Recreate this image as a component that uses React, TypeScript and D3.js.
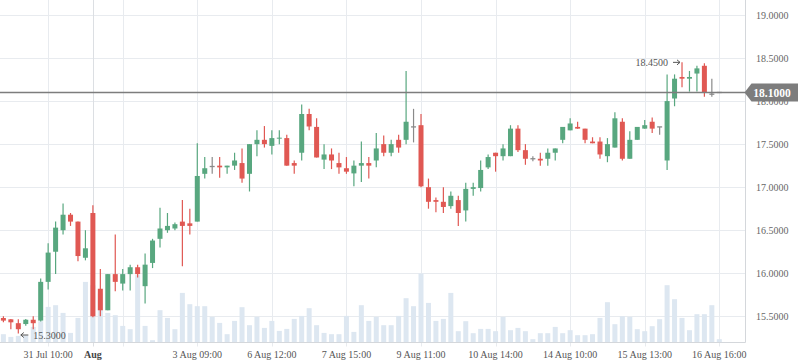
import React from "react";
import * as d3 from "d3";

const opens = [15.48,15.465,15.42,15.41,15.46,15.45,15.90,16.25,16.50,16.68,16.60,16.18,16.70,15.82,15.57,15.99,15.88,15.99,16.07,15.85,16.12,16.40,16.50,16.52,16.60,16.58,16.60,17.155,17.24,17.25,17.23,17.25,17.28,17.155,17.50,17.55,17.48,17.565,17.57,17.28,17.40,17.85,17.70,17.32,17.38,17.28,17.22,17.16,17.25,17.28,17.31,17.50,17.40,17.55,17.55,17.70,17.72,17.00,16.85,16.83,16.78,16.85,16.73,16.98,16.99,17.23,17.40,17.36,17.36,17.68,17.43,17.33,17.33,17.33,17.40,17.55,17.66,17.70,17.68,17.53,17.53,17.36,17.46,17.76,17.33,17.55,17.68,17.76,17.70,17.31,18.03,18.28,18.26,18.32,18.41,18.08,18.10];
const highs = [15.50,15.47,15.465,15.47,15.50,15.94,16.35,16.60,16.81,16.70,16.60,16.50,16.79,16.05,15.99,16.45,16.05,16.10,16.10,16.23,16.40,16.76,16.70,16.59,16.85,16.75,17.51,17.35,17.35,17.35,17.25,17.40,17.45,17.50,17.66,17.71,17.66,17.66,17.61,17.31,17.96,17.91,17.80,17.50,17.45,17.40,17.35,17.31,17.53,17.35,17.63,17.60,17.55,17.61,18.35,17.91,17.85,17.10,16.88,17.00,16.95,16.90,17.05,17.05,17.31,17.38,17.40,17.50,17.72,17.72,17.50,17.36,17.40,17.45,17.45,17.70,17.80,17.76,17.68,17.58,17.58,17.57,17.87,17.80,17.65,17.70,17.78,17.81,17.70,18.31,18.31,18.45,18.35,18.41,18.44,18.26,18.10];
const lows = [15.43,15.35,15.30,15.39,15.35,15.44,15.81,15.99,16.45,16.55,16.14,16.15,15.49,15.50,15.57,15.79,15.80,15.80,15.95,15.65,16.06,16.30,16.47,16.50,16.08,16.45,16.60,17.10,17.155,17.11,17.155,17.20,17.05,16.95,17.36,17.46,17.38,17.50,17.25,17.155,17.31,17.66,17.345,17.21,17.21,17.155,17.155,17.01,17.06,17.10,17.23,17.36,17.36,17.40,17.50,17.52,17.00,16.75,16.71,16.70,16.75,16.55,16.60,16.90,16.95,17.21,17.18,17.31,17.36,17.41,17.26,17.30,17.25,17.25,17.31,17.51,17.66,17.68,17.51,17.51,17.33,17.29,17.46,17.31,17.33,17.55,17.68,17.63,17.61,17.20,17.94,18.16,18.11,18.11,18.05,18.05,18.10];
const closes = [15.45,15.43,15.35,15.46,15.42,15.90,16.24,16.53,16.68,16.60,16.20,16.29,15.50,15.57,15.99,15.90,15.99,16.07,15.99,16.10,16.38,16.52,16.55,16.57,16.55,16.55,17.13,17.22,17.24,17.23,17.25,17.31,17.10,17.50,17.55,17.50,17.57,17.575,17.25,17.25,17.85,17.705,17.345,17.38,17.31,17.23,17.18,17.25,17.28,17.25,17.45,17.40,17.50,17.46,17.76,17.70,17.01,16.83,16.83,16.77,16.90,16.70,16.98,17.00,17.20,17.35,17.36,17.45,17.68,17.43,17.33,17.33,17.31,17.40,17.45,17.70,17.74,17.68,17.55,17.51,17.38,17.50,17.80,17.33,17.55,17.70,17.72,17.68,17.70,18.00,18.26,18.26,18.28,18.38,18.10,18.08,18.10];
const volumes = [8.3,5.6,6.6,7,15.6,21.3,35.6,37.3,29.6,9.6,24.6,60.6,57.3,49,29.6,27.3,16.6,13.3,67.3,16.6,2.3,32.3,24.6,13.3,49.6,38.3,36.3,36.3,25.6,19.6,8.3,21.6,35.3,17.3,25.6,14.6,21.6,11.6,13.6,23.6,26.6,34.3,17.3,9.6,8.3,8.3,26.6,10.6,37.3,21.6,25.6,17.3,17.3,26.6,44.3,36.3,69,39.6,21.6,23.6,49.6,11.3,21.3,9.3,13.6,13.6,11.3,25.6,12.3,14.6,11.3,3.3,9.3,9.3,15.6,9.3,12.3,7.3,7.3,8.3,24.6,40.3,18.3,26.3,25.6,13.3,11.3,16.3,23.3,57.3,43.3,24.6,12.3,28.3,28.3,37.3,3.3];

const priceTicks = [15.5, 16, 16.5, 17, 17.5, 18, 18.5, 19];
const timeTickIdx = [6, 16, 26, 36, 46, 56, 66, 76, 86, 96];
const timeTickLabels = ["31 Jul 10:00", "", "3 Aug 09:00", "6 Aug 12:00", "7 Aug 15:00", "9 Aug 11:00", "10 Aug 14:00", "14 Aug 10:00", "15 Aug 13:00", "16 Aug 16:00"];
const monthTickIdx = [12];
const monthTickLabels = ["Aug"];
const lastPrice = 18.1;
const maxMarkerIdx = 91;
const maxMarkerValue = 18.45;
const minMarkerIdx = 2;
const minMarkerValue = 15.3;

const W = 798;
const H = 363;
const plotRight = 745.5;
const plotBottom = 342.5;
const UP = "#58a77f";
const DOWN = "#e05853";
const FLAT = "#8a8a8a";
const GRID = "#e8ebef";
const SERIF = "'Liberation Serif', 'Times New Roman', serif";

export default function App() {
  const x = d3.scaleLinear().domain([0, opens.length - 1]).range([3.4, 719.3]);
  const y = d3.scaleLinear().domain([15.5, 19]).range([316.3, 15]);
  const v = d3.scaleLinear().domain([0, d3.max(volumes) as number]).range([0, 69]);
  const bw = 5;

  return (
    <svg width={W} height={H} style={{ position: "absolute", left: 0, top: 0, background: "#fff" }}>
      {/* horizontal grid */}
      {priceTicks.map((t) => (
        <line key={"h" + t} x1={0} x2={plotRight} y1={Math.round(y(t)) + 0.5} y2={Math.round(y(t)) + 0.5} stroke={GRID} strokeWidth={1} />
      ))}
      {/* vertical grid */}
      {timeTickIdx.map((i) => (
        <line key={"v" + i} x1={Math.round(x(i)) + 0.5} x2={Math.round(x(i)) + 0.5} y1={0} y2={plotBottom + 4} stroke={GRID} strokeWidth={1} />
      ))}
      {monthTickIdx.map((i) => (
        <line key={"m" + i} x1={Math.round(x(i)) + 0.5} x2={Math.round(x(i)) + 0.5} y1={0} y2={plotBottom + 4} stroke="#dcdfe3" strokeWidth={1} />
      ))}
      {/* volume */}
      {volumes.map((val, i) => (
        <rect key={"vol" + i} x={x(i) - bw / 2} y={plotBottom - v(val)} width={bw} height={v(val)} fill="#dde7f1" />
      ))}
      {/* candles */}
      {opens.map((o, i) => {
        const c = closes[i];
        const color = c > o ? UP : c < o ? DOWN : FLAT;
        const top = y(Math.max(o, c));
        const bot = y(Math.min(o, c));
        return (
          <g key={"c" + i}>
            <line x1={x(i)} x2={x(i)} y1={y(highs[i])} y2={y(lows[i])} stroke={color} strokeWidth={1.2} />
            {c === o ? (
              <line x1={x(i) - bw / 2} x2={x(i) + bw / 2} y1={top} y2={top} stroke={color} strokeWidth={1.3} />
            ) : (
              <rect x={x(i) - bw / 2} y={top} width={bw} height={Math.max(1, bot - top)} fill={color} />
            )}
          </g>
        );
      })}
      {/* axes lines */}
      <line x1={0} x2={plotRight} y1={plotBottom} y2={plotBottom} stroke="#d4d7db" strokeWidth={1} />
      <line x1={plotRight} x2={plotRight} y1={0} y2={plotBottom} stroke="#d4d7db" strokeWidth={1} />
      {/* y labels */}
      {priceTicks.map((t) => (
        <text key={"yl" + t} x={756} y={y(t)} dy="0.35em" fontFamily={SERIF} fontSize={10} fill="#666">
          {t.toFixed(4)}
        </text>
      ))}
      {/* x labels */}
      {timeTickIdx.map((i, k) => (
        <text key={"xl" + i} x={x(i)} y={357.5} textAnchor="middle" fontFamily={SERIF} fontSize={10} fill="#555">
          {timeTickLabels[k]}
        </text>
      ))}
      {monthTickIdx.map((i, k) => (
        <text key={"ml" + i} x={x(i)} y={357.5} textAnchor="middle" fontFamily={SERIF} fontSize={10} fontWeight="bold" fill="#444">
          {monthTickLabels[k]}
        </text>
      ))}
      {/* last price line */}
      <line x1={0} x2={plotRight} y1={y(lastPrice)} y2={y(lastPrice)} stroke="#7d7d7d" strokeWidth={1.3} />
      <path
        d={`M${plotRight - 1},${y(lastPrice)} L${plotRight + 6},${y(lastPrice) - 9} H${W} V${y(lastPrice) + 9} H${plotRight + 6} Z`}
        fill="#7d7d7d"
      />
      <text x={772} y={y(lastPrice)} dy="0.36em" textAnchor="middle" fontFamily={SERIF} fontSize={11.5} fontWeight="bold" fill="#fff">
        {lastPrice.toFixed(4)}
      </text>
      {/* max marker */}
      <text x={x(maxMarkerIdx) - 14} y={y(maxMarkerValue)} dy="0.35em" textAnchor="end" fontFamily={SERIF} fontSize={10} fill="#555">
        {maxMarkerValue.toFixed(4)}
      </text>
      <line x1={x(maxMarkerIdx) - 9} x2={x(maxMarkerIdx) - 2} y1={y(maxMarkerValue)} y2={y(maxMarkerValue)} stroke="#555" strokeWidth={1} />
      <path d={`M${x(maxMarkerIdx) - 5},${y(maxMarkerValue) - 2.5} L${x(maxMarkerIdx) - 2},${y(maxMarkerValue)} L${x(maxMarkerIdx) - 5},${y(maxMarkerValue) + 2.5}`} fill="none" stroke="#555" strokeWidth={1} />
      {/* min marker */}
      <line x1={x(minMarkerIdx) + 2.5} x2={x(minMarkerIdx) + 10} y1={y(minMarkerValue) + 1.5} y2={y(minMarkerValue) + 1.5} stroke="#555" strokeWidth={1} />
      <path d={`M${x(minMarkerIdx) + 5.5},${y(minMarkerValue) - 1} L${x(minMarkerIdx) + 2.5},${y(minMarkerValue) + 1.5} L${x(minMarkerIdx) + 5.5},${y(minMarkerValue) + 4}`} fill="none" stroke="#555" strokeWidth={1} />
      <text x={x(minMarkerIdx) + 15} y={y(minMarkerValue) + 1.5} dy="0.35em" fontFamily={SERIF} fontSize={10} fill="#555">
        {minMarkerValue.toFixed(4)}
      </text>
    </svg>
  );
}
